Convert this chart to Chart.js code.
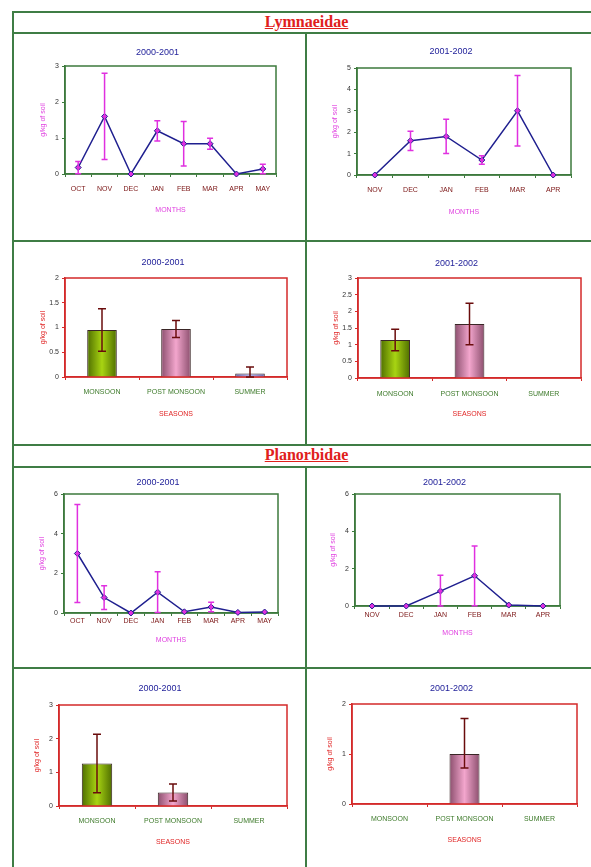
<!DOCTYPE html>
<html>
<head>
<meta charset="utf-8">
<script src="https://cdn.jsdelivr.net/npm/chart.js@4.4.1/dist/chart.umd.min.js"></script>
<style>
html, body { margin: 0; padding: 0; background: #fff; }
body { position: relative; width: 591px; height: 867px; overflow: hidden; }
.hl { position: absolute; left: 12px; right: 0; height: 2px; background: #3f7d45; }
.vl { position: absolute; width: 2px; background: #3f7d45; }
.family { position: absolute; left: 12px; right: 0; padding-left: 10px; height: 20px; line-height: 20px;
  text-align: center; font: bold 16px "Liberation Serif", serif; color: #e0201c; text-decoration: underline; }
.cell { position: absolute; }
.cell canvas { display: block; }
</style>
</head>
<body>
<div class="hl" style="top:11px"></div>
<div class="hl" style="top:32px"></div>
<div class="hl" style="top:240px"></div>
<div class="hl" style="top:444px"></div>
<div class="hl" style="top:466px"></div>
<div class="hl" style="top:667px"></div>
<div class="vl" style="left:12px;top:11px;height:856px"></div>
<div class="vl" style="left:305px;top:33px;height:412px"></div>
<div class="vl" style="left:305px;top:467px;height:400px"></div>

<div class="family" style="top:13px">Lymnaeidae</div>
<div class="family" style="top:446px">Planorbidae</div>

<div class="cell" style="left:14px;top:34px"><canvas id="c1" width="291" height="206"></canvas></div>
<div class="cell" style="left:307px;top:34px"><canvas id="c2" width="284" height="206"></canvas></div>
<div class="cell" style="left:14px;top:243px"><canvas id="c3" width="291" height="201"></canvas></div>
<div class="cell" style="left:307px;top:243px"><canvas id="c4" width="284" height="201"></canvas></div>
<div class="cell" style="left:14px;top:469px"><canvas id="c5" width="291" height="198"></canvas></div>
<div class="cell" style="left:307px;top:469px"><canvas id="c6" width="284" height="198"></canvas></div>
<div class="cell" style="left:14px;top:670px"><canvas id="c7" width="291" height="197"></canvas></div>
<div class="cell" style="left:307px;top:670px"><canvas id="c8" width="284" height="197"></canvas></div>

<script>
// categories
const MONTHS_2000 = ['OCT', 'NOV', 'DEC', 'JAN', 'FEB', 'MAR', 'APR', 'MAY'];
const MONTHS_2001 = ['NOV', 'DEC', 'JAN', 'FEB', 'MAR', 'APR'];
const SEASONS = ['MONSOON', 'POST MONSOON', 'SUMMER'];

// Lymnaeidae
const LYM_2000 = [0.18, 1.6, 0, 1.2, 0.84, 0.84, 0, 0.14];
const LYM_2000_ERR = [0.17, 1.2, 0, 0.28, 0.62, 0.15, 0, 0.13];
const LYM_2001 = [0, 1.6, 1.8, 0.7, 3.0, 0];
const LYM_2001_ERR = [0, 0.45, 0.8, 0.2, 1.65, 0];
const LYM_SEASON_2000 = [0.95, 0.97, 0.07];
const LYM_SEASON_2000_ERR = [0.43, 0.17, 0.13];
const LYM_SEASON_2001 = [1.14, 1.62, null];
const LYM_SEASON_2001_ERR = [0.32, 0.62, 0];

// Planorbidae
const PLA_2000 = [3.0, 0.78, 0, 1.05, 0.06, 0.3, 0.03, 0.05];
const PLA_2000_ERR = [2.47, 0.6, 0, 1.03, 0, 0.24, 0, 0];
const PLA_2001 = [0, 0, 0.8, 1.62, 0.05, 0];
const PLA_2001_ERR = [0, 0, 0.85, 1.6, 0, 0];
const PLA_SEASON_2000 = [1.26, 0.4, null];
const PLA_SEASON_2000_ERR = [0.87, 0.25, 0];
const PLA_SEASON_2001 = [null, 1.0, null];
const PLA_SEASON_2001_ERR_UP = [0, 0.71, 0];
const PLA_SEASON_2001_ERR_DOWN = [0, 0.28, 0];

const FONT = '"Liberation Sans", Arial, sans-serif';
const GREEN = '#3c7a3c';
const RED = '#d42a2a';
const Y_W = 26;

// bar shades: edge, centre
const BAR_SHADES = [['#4f6e00', '#a8d412'], ['#8c4f6e', '#f3a6cd'], ['#6b6bb0', '#b4b4ee']];

function barFill(ctx) {
  const shade = BAR_SHADES[ctx.dataIndex];
  const chart = ctx.chart;
  if (!shade) return '#888';
  if (!chart.chartArea) return shade[0];
  const x = chart.scales.x.getPixelForValue(ctx.dataIndex);
  const half = chart.scales.x.width / SEASONS.length * 0.4 / 2;
  const grad = chart.ctx.createLinearGradient(x - half, 0, x + half, 0);
  grad.addColorStop(0, shade[0]);
  grad.addColorStop(0.5, shade[1]);
  grad.addColorStop(1, shade[0]);
  return grad;
}

// box round the plot area
const framePlugin = {
  id: 'frame',
  beforeDatasetsDraw(chart, args, opts) {
    const a = chart.chartArea, c = chart.ctx;
    c.save();
    c.strokeStyle = opts.color;
    c.lineWidth = 1.5;
    c.strokeRect(a.left, a.top, a.right - a.left, a.bottom - a.top);
    c.restore();
  }
};

// error bars from errUp / errDown of each dataset
const errorBarPlugin = {
  id: 'errorBars',
  afterDatasetsDraw(chart, args, opts) {
    const c = chart.ctx, y = chart.scales.y;
    chart.data.datasets.forEach((ds, di) => {
      const meta = chart.getDatasetMeta(di);
      const up = ds.errUp || [];
      const down = ds.errDown || up;
      meta.data.forEach((el, i) => {
        const v = ds.data[i];
        if (v == null || !up[i]) return;
        const yTop = y.getPixelForValue(v + up[i]);
        const yBot = y.getPixelForValue(Math.max(0, v - (down[i] || 0)));
        c.save();
        c.strokeStyle = opts.color;
        c.lineWidth = 1.5;
        c.beginPath();
        c.moveTo(el.x, yTop); c.lineTo(el.x, yBot);
        c.moveTo(el.x - opts.cap, yTop); c.lineTo(el.x + opts.cap, yTop);
        c.moveTo(el.x - opts.cap, yBot); c.lineTo(el.x + opts.cap, yBot);
        c.stroke();
        c.restore();
      });
    });
  }
};

function drawChart(id, g, o) {
  const isBar = o.type === 'bar';
  const frame = isBar ? RED : GREEN;
  const axisTitle = isBar ? '#e02424' : '#e040e0';
  const xH = g.titleGap + 4.2;
  const dataset = isBar ? {
    data: o.values, errUp: o.errUp, errDown: o.errDown,
    backgroundColor: barFill, borderColor: '#3a2626', borderWidth: 1,
    barPercentage: 0.4, categoryPercentage: 1
  } : {
    data: o.values, errUp: o.errUp,
    borderColor: '#1f1f8f', borderWidth: 1.5, tension: 0, clip: false,
    pointStyle: 'rectRot', pointRadius: 3,
    pointBackgroundColor: '#e030e0', pointBorderColor: '#1f1f8f', pointBorderWidth: 1
  };
  new Chart(document.getElementById(id), {
    type: o.type,
    data: { labels: o.labels, datasets: [dataset] },
    options: {
      responsive: false,
      animation: false,
      layout: { padding: { left: g.left - Y_W, right: g.w - g.right, top: 0, bottom: g.h - g.bottom - xH } },
      plugins: {
        legend: { display: false },
        tooltip: { enabled: false },
        title: {
          display: true, text: o.title, color: '#23239b',
          font: { size: 9, family: FONT, weight: 'normal' },
          padding: { top: g.titleY - 5.4, bottom: g.top - g.titleY - 5.4 }
        },
        frame: { color: frame },
        errorBars: { color: isBar ? '#6a0c0c' : '#e030e0', cap: isBar ? 4 : 3 }
      },
      scales: {
        x: {
          offset: true,
          grid: { offset: true, drawOnChartArea: false, tickLength: 3, color: frame },
          border: { color: frame, width: 1.5 },
          ticks: { color: isBar ? '#3d7a2a' : '#7a1414', font: { size: 7, family: FONT }, padding: g.tickGap - 7.2, maxRotation: 0, autoSkip: false },
          title: { display: true, text: isBar ? 'SEASONS' : 'MONTHS', color: axisTitle, font: { size: 7, family: FONT }, padding: 0 },
          afterFit: s => { s.height = xH; }
        },
        y: {
          min: 0, max: o.yMax,
          ticks: { stepSize: o.yStep, color: '#333', font: { size: 7, family: FONT }, padding: 3, callback: v => String(+v.toFixed(2)) },
          grid: { drawOnChartArea: false, tickLength: 3, color: frame },
          border: { color: frame, width: 1.5 },
          title: { display: true, text: 'g/kg of soil', color: axisTitle, font: { size: 7, family: FONT }, padding: 0 },
          afterFit: s => { s.width = Y_W; }
        }
      }
    },
    plugins: [framePlugin, errorBarPlugin]
  });
}

// Lymnaeidae
drawChart('c1', { w: 291, h: 206, left: 51, right: 262, top: 32, bottom: 140, titleY: 19, tickGap: 15, titleGap: 36 },
  { type: 'line', title: '2000-2001', labels: MONTHS_2000, values: LYM_2000, errUp: LYM_2000_ERR, yMax: 3, yStep: 1 });
drawChart('c2', { w: 284, h: 206, left: 50, right: 264, top: 34, bottom: 141, titleY: 18, tickGap: 15, titleGap: 37 },
  { type: 'line', title: '2001-2002', labels: MONTHS_2001, values: LYM_2001, errUp: LYM_2001_ERR, yMax: 5, yStep: 1 });
drawChart('c3', { w: 291, h: 201, left: 51, right: 273, top: 35, bottom: 134, titleY: 20, tickGap: 15, titleGap: 37 },
  { type: 'bar', title: '2000-2001', labels: SEASONS, values: LYM_SEASON_2000, errUp: LYM_SEASON_2000_ERR, yMax: 2, yStep: 0.5 });
drawChart('c4', { w: 284, h: 201, left: 51, right: 274, top: 35, bottom: 135, titleY: 21, tickGap: 16, titleGap: 36 },
  { type: 'bar', title: '2001-2002', labels: SEASONS, values: LYM_SEASON_2001, errUp: LYM_SEASON_2001_ERR, yMax: 3, yStep: 0.5 });

// Planorbidae
drawChart('c5', { w: 291, h: 198, left: 50, right: 264, top: 25, bottom: 144, titleY: 14, tickGap: 8, titleGap: 27 },
  { type: 'line', title: '2000-2001', labels: MONTHS_2000, values: PLA_2000, errUp: PLA_2000_ERR, yMax: 6, yStep: 2 });
drawChart('c6', { w: 284, h: 198, left: 48, right: 253, top: 25, bottom: 137, titleY: 14, tickGap: 9, titleGap: 27 },
  { type: 'line', title: '2001-2002', labels: MONTHS_2001, values: PLA_2001, errUp: PLA_2001_ERR, yMax: 6, yStep: 2 });
drawChart('c7', { w: 291, h: 197, left: 45, right: 273, top: 35, bottom: 136, titleY: 19, tickGap: 15, titleGap: 36 },
  { type: 'bar', title: '2000-2001', labels: SEASONS, values: PLA_SEASON_2000, errUp: PLA_SEASON_2000_ERR, yMax: 3, yStep: 1 });
drawChart('c8', { w: 284, h: 197, left: 45, right: 270, top: 34, bottom: 134, titleY: 19, tickGap: 15, titleGap: 36 },
  { type: 'bar', title: '2001-2002', labels: SEASONS, values: PLA_SEASON_2001, errUp: PLA_SEASON_2001_ERR_UP, errDown: PLA_SEASON_2001_ERR_DOWN, yMax: 2, yStep: 1 });
</script>
</body>
</html>
